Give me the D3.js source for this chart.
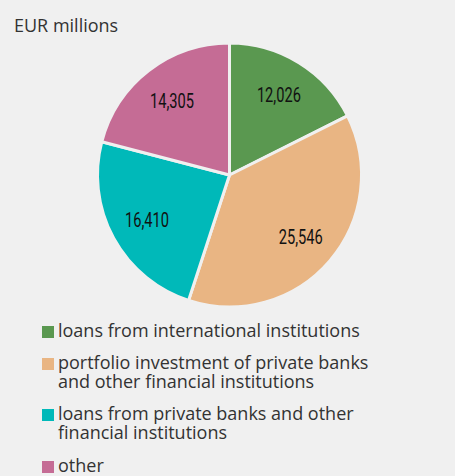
<!DOCTYPE html>
<html>
<head>
<meta charset="utf-8">
<script src="https://cdn.jsdelivr.net/npm/d3@7"></script>
<style>
  html, body { margin: 0; padding: 0; background: #f0f0f0; }
  svg { display: block; }
</style>
</head>
<body>
<script>
// Liabilities breakdown, EUR millions
const categories = [
  "loans from international institutions",
  "portfolio investment of private banks and other financial institutions",
  "loans from private banks and other financial institutions",
  "other"
];
const values = [12026, 25546, 16410, 14305];
const colors = ["#5a9850", "#e9b583", "#00b9b9", "#c56c95"];
// Legend entries wrapped over lines
const legendLines = [
  ["loans from international institutions"],
  ["portfolio investment of private banks", "and other financial institutions"],
  ["loans from private banks and other", "financial institutions"],
  ["other"]
];

const W = 455, H = 476;
const svg = d3.select("body").append("svg").attr("width", W).attr("height", H);
svg.append("rect").attr("width", W).attr("height", H).attr("fill", "#f0f0f0");

svg.append("text")
  .attr("x", 14).attr("y", 32)
  .attr("font-family", "'Open Sans', sans-serif")
  .attr("font-size", 18)
  .attr("fill", "#333")
  .text("EUR millions");

const cx = 229.5, cy = 175, R = 132;
const pie = d3.pie().sort(null).value(d => d)(values);
const arc = d3.arc().innerRadius(0).outerRadius(R);
const labelArc = d3.arc().innerRadius(94).outerRadius(94);
const fmt = d3.format(",");

const g = svg.append("g").attr("transform", `translate(${cx},${cy})`);
g.selectAll("path").data(pie).join("path")
  .attr("d", arc)
  .attr("fill", (d, i) => colors[i])
  .attr("stroke", "#f0f0f0")
  .attr("stroke-width", 3)
  .attr("stroke-linejoin", "round");

// Condensed value labels
g.selectAll("text").data(pie).join("text")
  .attr("transform", d => `translate(${labelArc.centroid(d)})`)
  .attr("text-anchor", "middle")
  .attr("dy", "0.36em")
  .attr("font-family", "Roboto, sans-serif")
  .attr("font-weight", 400)
  .attr("font-size", 20)
  .attr("textLength", 44)
  .attr("lengthAdjust", "spacingAndGlyphs")
  .attr("fill", "#111")
  .text(d => fmt(d.data));

const rowY = [337, 369, 420, 472];
const lg = svg.append("g");
legendLines.forEach((lines, i) => {
  lg.append("rect")
    .attr("x", 42).attr("y", rowY[i] - 11)
    .attr("width", 12).attr("height", 12)
    .attr("fill", colors[i]);
  lines.forEach((ln, j) => {
    lg.append("text")
      .attr("x", 58).attr("y", rowY[i] + j * 19)
      .attr("font-family", "'Open Sans', sans-serif")
      .attr("font-size", 18)
      .attr("fill", "#333")
      .text(ln);
  });
});
</script>
</body>
</html>
